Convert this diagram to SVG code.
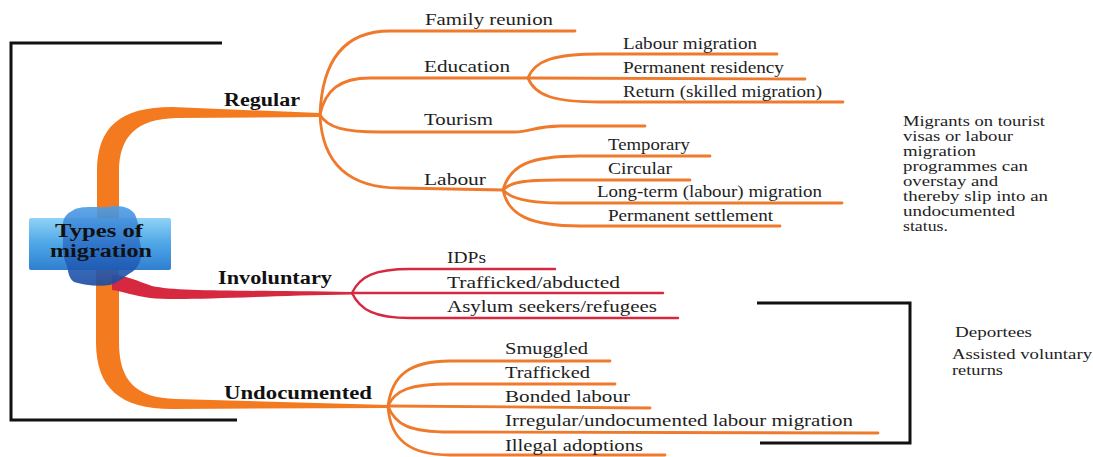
<svg xmlns="http://www.w3.org/2000/svg" width="1093" height="457" viewBox="0 0 1093 457">
<defs>
<linearGradient id="boxg" x1="0" y1="0" x2="0" y2="1">
<stop offset="0" stop-color="#8fd3f7"/>
<stop offset="0.5" stop-color="#4ea6e6"/>
<stop offset="1" stop-color="#2f7fd0"/>
</linearGradient>
<linearGradient id="blobg" x1="0" y1="0" x2="0" y2="1">
<stop offset="0" stop-color="#4c9ee6"/>
<stop offset="0.6" stop-color="#2566c0"/>
<stop offset="1" stop-color="#1b4aa0"/>
</linearGradient>
</defs>
<style>
.o{fill:none;stroke:#ef7a2c;stroke-width:2.8;stroke-linecap:round}
.r{fill:none;stroke:#d6283f;stroke-width:2.4;stroke-linecap:round}
.br{fill:none;stroke:#111;stroke-width:3}
.t{font-family:"Liberation Serif","Times New Roman",serif;font-size:17px;fill:#1e1e1e}
.b{font-family:"Liberation Serif","Times New Roman",serif;font-size:18px;font-weight:bold;fill:#111}
.n{font-family:"Liberation Serif","Times New Roman",serif;font-size:15.5px;fill:#1e1e1e}
</style>
<rect width="1093" height="457" fill="#ffffff"/>

<g id="connectors">
<path d="M97,232 L97,172 C97,127 120,107 172,107 L320,113 L320,117 L176,118 C137,119 119,136 119,172 L119,232 Z" fill="#f47a20"/>
<path d="M96,270 L96,342 C96,388 120,409 172,409 L388,408 L388,405 L176,399 C136,398 119,381 119,342 L119,270 Z" fill="#f47a20"/>
<path d="M112,275 C126,275 137,281 152,286 C180,292 240,290 352,292 L352,294.5 C250,296 182,301 150,298 C134,296 122,291 112,290 Z" fill="#d6283f"/>
<path class="o" d="M320,115 C322,60 345,31 390,31 L575,31"/>
<path class="o" d="M320,115 C325,90 340,78 370,78 L528,78"/>
<path class="o" d="M320,115 C328,128 345,132 380,132 L515,132 C530,132 535,126 560,126 L645,126"/>
<path class="o" d="M320,115 C322,160 345,188 400,188 L503,190"/>
<path class="o" d="M528,78 C535,60 555,54 600,54 L777,54"/>
<path class="o" d="M528,78 L805,79"/>
<path class="o" d="M528,78 C535,96 555,102 600,102 L843,102"/>
<path class="o" d="M503,190 C510,165 530,156 580,156 L710,156"/>
<path class="o" d="M503,190 C510,182 525,180 560,180 L690,180"/>
<path class="o" d="M503,190 C510,198 525,203 560,203 L842,203"/>
<path class="o" d="M503,190 C508,215 530,226 580,226 L780,226"/>
<path class="r" d="M352,293 C360,276 375,269 410,269 L555,269"/>
<path class="r" d="M352,293 L663,293"/>
<path class="r" d="M352,293 C360,310 375,318 410,318 L678,318"/>
<path class="o" d="M388,406 C392,375 410,361 450,361 L610,361"/>
<path class="o" d="M388,406 C395,390 410,384 450,384 L615,384"/>
<path class="o" d="M388,406 L650,408"/>
<path class="o" d="M388,406 C395,425 410,432 450,432 L878,433"/>
<path class="o" d="M388,406 C390,440 410,455 450,455 L665,455"/>
<path class="br" d="M222,43 L11,43 L11,420 L237,420"/>
<path class="br" d="M757,303 L910,303 L910,443 L760,443" stroke-width="2.5"/>
</g>

<g id="center">
<rect x="29" y="218" width="142" height="52" rx="2" fill="url(#boxg)"/>
<path d="M72,211 C80,205 96,208 108,207 C122,204 134,209 136,217 C140,226 138,236 141,247 C143,258 139,267 132,272 C125,276 120,282 110,285 C98,287 84,285 74,282 C67,277 69,269 65,261 C61,250 64,239 63,228 C62,219 66,214 72,211 Z" fill="url(#blobg)" opacity="0.9"/>
<text class="b" x="99" y="237" text-anchor="middle" font-size="18" textLength="88" lengthAdjust="spacingAndGlyphs" fill="#0d1624">Types of</text>
<text class="b" x="101" y="257" text-anchor="middle" font-size="18" textLength="102" lengthAdjust="spacingAndGlyphs" fill="#0d1624">migration</text>
</g>

<g id="regular">
<text class="b" x="224" y="106" textLength="76" lengthAdjust="spacingAndGlyphs">Regular</text>
<text class="t" x="425" y="25" textLength="128" lengthAdjust="spacingAndGlyphs">Family reunion</text>
<text class="t" x="424" y="72" textLength="86" lengthAdjust="spacingAndGlyphs">Education</text>
<text class="t" x="424" y="125" textLength="69" lengthAdjust="spacingAndGlyphs">Tourism</text>
<text class="t" x="424" y="185" textLength="62" lengthAdjust="spacingAndGlyphs">Labour</text>
<text class="t" x="623" y="49" textLength="134" lengthAdjust="spacingAndGlyphs">Labour migration</text>
<text class="t" x="623" y="73" textLength="161" lengthAdjust="spacingAndGlyphs">Permanent residency</text>
<text class="t" x="623" y="97" textLength="199" lengthAdjust="spacingAndGlyphs">Return (skilled migration)</text>
<text class="t" x="608" y="150" textLength="82" lengthAdjust="spacingAndGlyphs">Temporary</text>
<text class="t" x="608" y="174" textLength="64" lengthAdjust="spacingAndGlyphs">Circular</text>
<text class="t" x="597" y="197" textLength="225" lengthAdjust="spacingAndGlyphs">Long-term (labour) migration</text>
<text class="t" x="608" y="221" textLength="165" lengthAdjust="spacingAndGlyphs">Permanent settlement</text>
</g>

<g id="involuntary">
<text class="b" x="218" y="284" textLength="114" lengthAdjust="spacingAndGlyphs">Involuntary</text>
<text class="t" x="447" y="263" textLength="39" lengthAdjust="spacingAndGlyphs">IDPs</text>
<text class="t" x="447" y="288" textLength="173" lengthAdjust="spacingAndGlyphs">Trafficked/abducted</text>
<text class="t" x="447" y="312" textLength="210" lengthAdjust="spacingAndGlyphs">Asylum seekers/refugees</text>
</g>

<g id="undocumented">
<text class="b" x="224" y="399" textLength="148" lengthAdjust="spacingAndGlyphs">Undocumented</text>
<text class="t" x="505" y="354" textLength="83" lengthAdjust="spacingAndGlyphs">Smuggled</text>
<text class="t" x="505" y="378" textLength="85" lengthAdjust="spacingAndGlyphs">Trafficked</text>
<text class="t" x="505" y="402" textLength="125" lengthAdjust="spacingAndGlyphs">Bonded labour</text>
<text class="t" x="505" y="426" textLength="348" lengthAdjust="spacingAndGlyphs">Irregular/undocumented labour migration</text>
<text class="t" x="505" y="451" textLength="138" lengthAdjust="spacingAndGlyphs">Illegal adoptions</text>
</g>

<g id="note-overstay">
<text class="n" x="903" y="126" textLength="142" lengthAdjust="spacingAndGlyphs">Migrants on tourist</text>
<text class="n" x="903" y="141" textLength="110" lengthAdjust="spacingAndGlyphs">visas or labour</text>
<text class="n" x="903" y="156" textLength="73" lengthAdjust="spacingAndGlyphs">migration</text>
<text class="n" x="903" y="171" textLength="125" lengthAdjust="spacingAndGlyphs">programmes can</text>
<text class="n" x="903" y="186" textLength="95" lengthAdjust="spacingAndGlyphs">overstay and</text>
<text class="n" x="903" y="201" textLength="145" lengthAdjust="spacingAndGlyphs">thereby slip into an</text>
<text class="n" x="903" y="216" textLength="112" lengthAdjust="spacingAndGlyphs">undocumented</text>
<text class="n" x="903" y="231" textLength="45" lengthAdjust="spacingAndGlyphs">status.</text>
</g>

<g id="note-returns">
<text class="n" x="955" y="337" textLength="77" lengthAdjust="spacingAndGlyphs">Deportees</text>
<text class="n" x="952" y="359" textLength="140" lengthAdjust="spacingAndGlyphs">Assisted voluntary</text>
<text class="n" x="952" y="375" textLength="51" lengthAdjust="spacingAndGlyphs">returns</text>
</g>
</svg>
